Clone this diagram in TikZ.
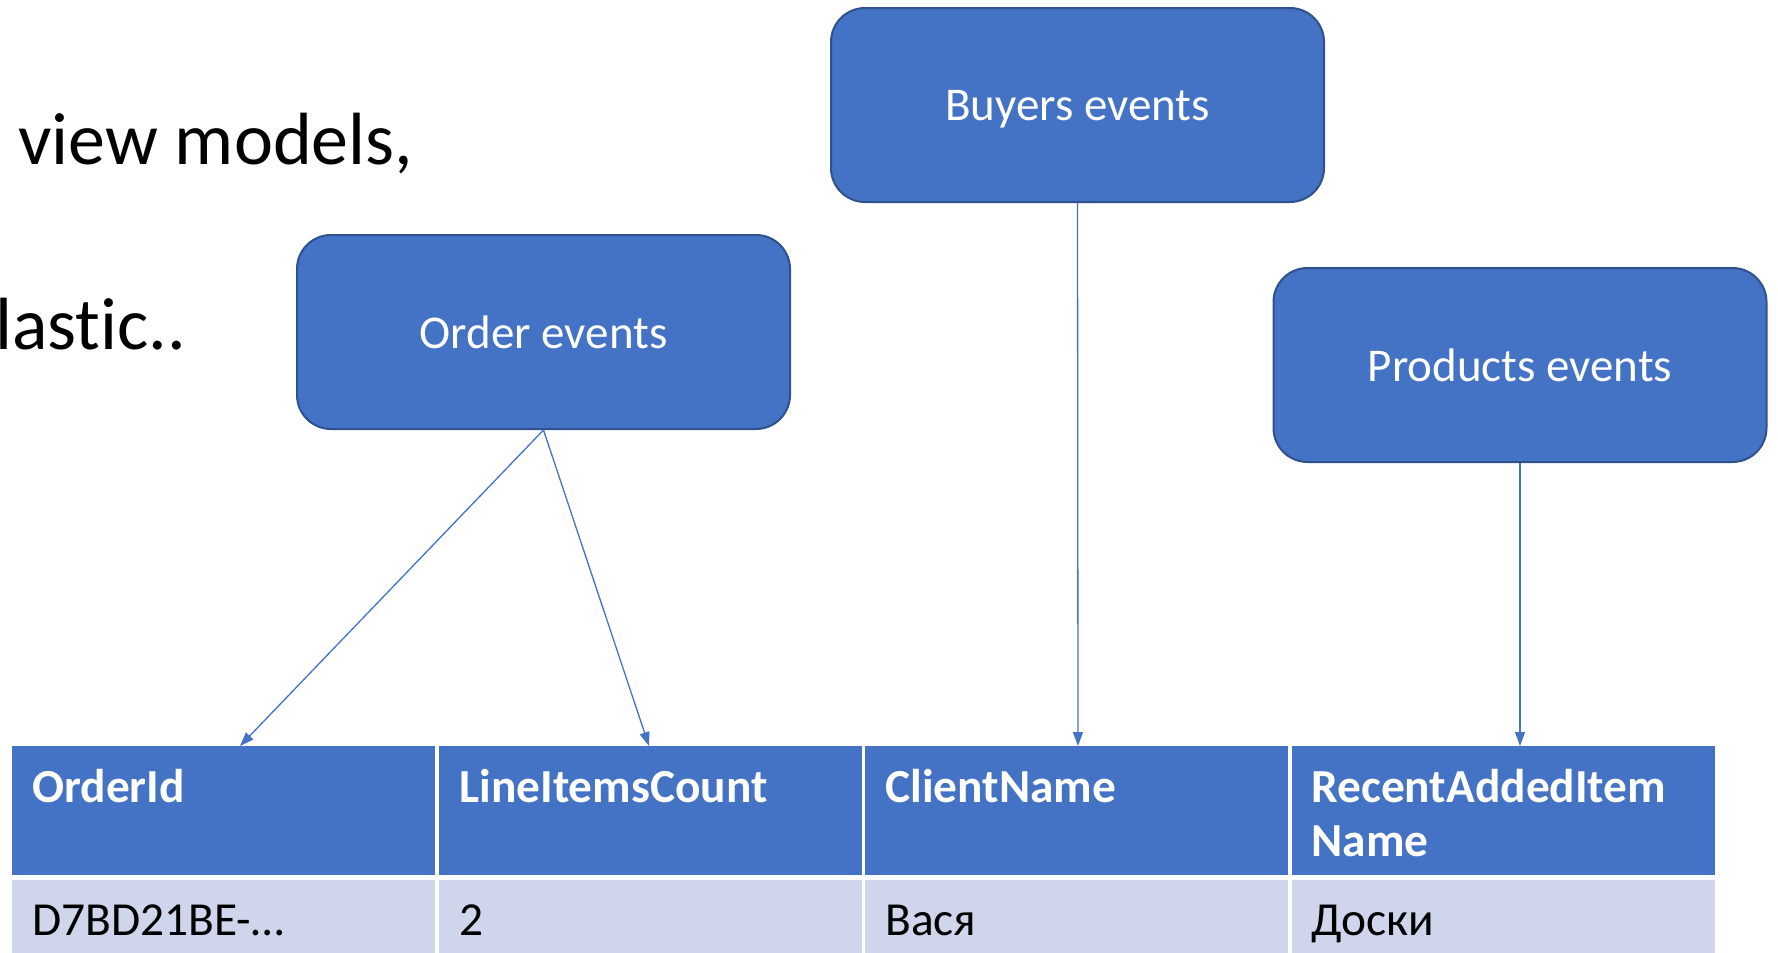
\documentclass[tikz,border=0pt]{standalone}
\usepackage{fontspec}
\setmainfont{Carlito}[Ligatures=NoCommon]
\usetikzlibrary{arrows.meta}
\definecolor{accent}{HTML}{4472C4}
\definecolor{accentdark}{HTML}{2F528F}
\definecolor{rowlight}{HTML}{CFD5EA}
\begin{document}
\begin{tikzpicture}[x=0.5pt,y=-0.5pt,
  event/.style={rectangle, rounded corners=17pt, fill=accent, draw=accentdark,
    line width=1pt, minimum width=246.5pt, minimum height=97pt, text depth=0pt,
    text=white, font=\fontsize{23.5}{28}\selectfont},
  headcell/.style={rectangle, fill=accent, anchor=north west, inner sep=0pt,
    minimum width=211.5pt, minimum height=64.5pt},
  datacell/.style={rectangle, fill=rowlight, anchor=north west, inner sep=0pt,
    minimum width=211.5pt, minimum height=40pt},
  headtext/.style={anchor=base west, inner sep=0pt, text=white,
    font=\bfseries\fontsize{23.7}{27}\selectfont, align=left},
  datatext/.style={anchor=base west, inner sep=0pt, text=black,
    font=\fontsize{23.7}{27}\selectfont},
  slidetext/.style={anchor=base west, inner sep=0pt, font=\fontsize{37}{44}\selectfont},
  feed/.style={draw=accent, line width=0.65pt,
    -{Triangle[length=7pt,width=5pt]}}]
\useasboundingbox (0,0) rectangle (1778,953);

% slide text cut off at the left edge
\node[slidetext] (t1) at (18,164) {view models,};
\node[slidetext] (t2) at (-5,349) {lastic..};

% event sources
\node[event] (order) at (543.5,332) {Order events};
\node[event] (buyers) at (1077.5,105) {Buyers events};
\node[event] (products) at (1520,365) {Products events};

% read model table: header row
\node[headcell] (h1) at (12,746) {};
\node[headcell] (h2) at (438.5,746) {};
\node[headcell] (h3) at (865,746) {};
\node[headcell] (h4) at (1291.5,746) {};
% data row
\node[datacell] (d1) at (12,880) {};
\node[datacell] (d2) at (438.5,880) {};
\node[datacell] (d3) at (865,880) {};
\node[datacell] (d4) at (1291.5,880) {};

\node[headtext] (l1) at (32,802) {OrderId};
\node[headtext] (l2) at (459,802) {LineItemsCount};
\node[headtext] (l3) at (885,802) {ClientName};
% two-line heading: base anchor sits on the last line
\node[headtext] (l4) at (1311,856) {RecentAddedItem\\Name};

\node[datatext] (v1) at (32,935) {D7BD21BE-…};
\node[datatext] (v2) at (459,935) {2};
\node[datatext] (v3) at (885,935) {Вася};
\node[datatext] (v4) at (1311,935) {Доски};

% arrow targets on the header row
\coordinate (a1) at (240,746);
\coordinate (a2) at (649,746);
\coordinate (a3) at (1078,746);
\coordinate (a4) at (1520,746);

\draw[feed] (order.south) -- (a1);
\draw[feed] (order.south) -- (a2);
\draw[feed] (buyers.south) -- (a3);
\draw[feed] (products.south) -- (a4);
\end{tikzpicture}
\end{document}
